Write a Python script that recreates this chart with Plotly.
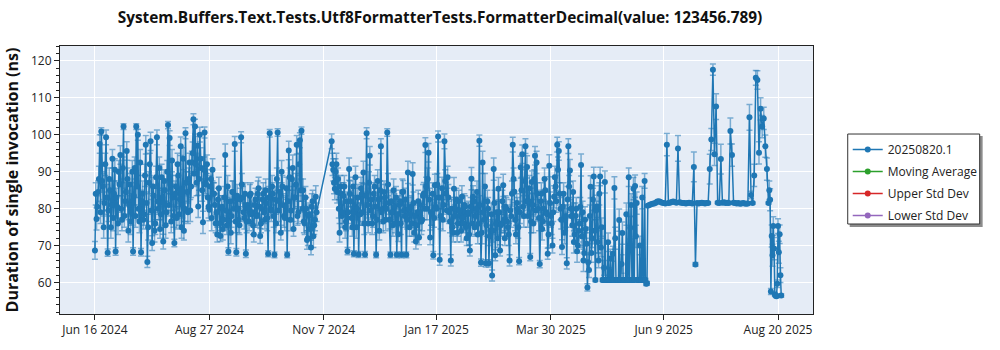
import pandas as pd
import plotly.graph_objects as go

title_text = "System.Buffers.Text.Tests.Utf8FormatterTests.FormatterDecimal(value: 123456.789)"
y_title = "Duration of single invocation (ns)"
series_names = ["20250820.1", "Moving Average", "Upper Std Dev", "Lower Std Dev"]
series_colors = ["#1f77b4", "#2ca02c", "#d62728", "#9467bd"]

# segment A: morning runs (daily from 2024-06-16) and evening runs (12h later)
start_a = "2024-06-16"
vals_a = [
    68.7, 77.2, 84.5, 97.5, 100.9, 86.0, 81.5, 99.3, 68.1, 88.0,
    75.0, 93.5, 84.0, 68.4, 80.5, 90.0, 94.5, 77.0, 102.2, 82.0,
    95.6, 74.0, 86.5, 79.0, 68.4, 91.0, 102.2, 100.0, 76.5, 68.2,
    84.0, 78.5, 97.3, 65.6, 87.0, 98.2, 70.7, 83.5, 76.0, 99.3,
    80.0, 74.5, 88.5, 71.1, 85.0, 79.0, 102.6, 99.1, 76.5, 83.0,
    70.7, 86.0, 92.0, 78.5, 96.9, 81.0, 74.0, 100.4, 84.5, 88.0,
    79.5, 92.5, 104.2, 102.2, 87.0, 80.6, 100.0, 91.0, 76.3, 100.6,
    86.5, 83.0, 79.7, 88.0, 90.5, 84.0, 76.0, 73.0, 85.5, 72.6,
    80.5, 77.0, 94.5, 75.5, 68.4, 82.0, 78.0, 84.5, 97.5, 68.2,
    80.0, 75.5, 99.3, 83.0, 77.5, 67.8, 81.0, 76.5, 84.0, 79.0,
    73.0, 82.5, 78.0, 85.5, 72.6, 80.0, 84.0, 77.0, 81.5, 67.8,
    100.4, 79.5, 84.0, 67.5, 76.0, 100.6, 82.0, 73.5, 86.0, 78.0,
    80.5, 67.5, 95.7, 77.0, 88.0, 74.5, 83.0, 97.3, 79.0, 98.5,
    101.1, 85.0, 76.0, 80.0, 72.0, 78.5, 69.5, 82.0, 75.5, 83.2,
]
err_a = [
    2.4, 3.0, 3.0, 2.5, 1.0, 3.5, 3.0, 2.0, 1.0, 3.0,
    3.0, 2.5, 3.5, 1.0, 3.0, 3.0, 2.5, 3.0, 0.8, 3.5,
    2.5, 3.0, 3.0, 3.5, 1.0, 3.0, 0.8, 1.5, 3.0, 1.0,
    3.5, 3.0, 2.5, 1.5, 3.0, 2.5, 2.0, 3.0, 3.0, 2.0,
    3.0, 2.5, 3.5, 2.0, 3.0, 3.0, 1.0, 2.0, 3.0, 3.5,
    1.0, 3.0, 3.0, 3.0, 2.5, 3.5, 2.5, 1.5, 3.0, 3.0,
    3.0, 3.0, 1.5, 2.0, 3.5, 3.0, 2.0, 3.0, 3.0, 1.5,
    3.0, 3.0, 3.0, 2.5, 3.0, 3.0, 2.5, 2.0, 3.0, 1.5,
    3.0, 3.0, 3.0, 2.5, 1.0, 3.0, 3.0, 3.0, 2.0, 1.0,
    3.0, 2.5, 1.5, 3.0, 3.0, 1.0, 3.0, 2.5, 3.0, 3.0,
    2.0, 3.0, 3.0, 3.0, 2.0, 3.0, 3.0, 2.5, 3.0, 0.8,
    1.0, 3.0, 3.0, 0.8, 2.5, 1.0, 3.0, 2.0, 3.0, 3.0,
    3.0, 0.8, 2.5, 3.0, 3.0, 2.0, 3.0, 2.5, 3.0, 2.0,
    1.0, 3.0, 3.0, 3.0, 2.0, 3.0, 2.0, 3.0, 2.5, 3.0,
]
vals_a_pm = [
    84.0, 80.5, 88.0, 79.0, 87.5, 75.0, 92.0, 83.0, 79.5, 85.0,
    81.0, 77.5, 90.5, 83.0, 76.0, 86.5, 80.0, 91.0, 78.0, 84.5,
    88.0, 81.0, 76.5, 90.0, 83.5, 78.0, 86.0, 80.0, 92.5, 82.0,
    77.0, 89.0, 81.5, 75.0, 92.0, 79.5, 86.0, 74.0, 88.5, 82.0,
    91.0, 78.5, 83.0, 87.5, 75.5, 90.0, 81.0, 86.5, 93.0, 78.0,
    84.0, 77.5, 89.0, 82.5, 75.0, 93.5, 80.0, 87.0, 79.0, 92.5,
    86.0, 95.0, 89.5, 92.0, 97.0, 88.0, 93.5, 85.0, 90.5, 87.0,
    92.0, 80.5, 86.0, 77.5, 84.0, 81.0, 79.0, 82.5, 76.0, 80.0,
    74.5, 83.0, 79.5, 86.0, 78.0, 73.5, 84.5, 80.0, 76.5, 83.5,
    77.0, 82.5, 86.5, 79.0, 84.0, 76.5, 80.0, 83.5, 78.5, 75.5,
    81.0, 78.5, 84.0, 80.5, 76.0, 82.5, 79.0, 85.0, 77.5, 83.0,
    80.0, 86.0, 78.0, 82.5, 88.0, 79.5, 84.5, 90.0, 81.0, 77.5,
    85.5, 82.0, 88.5, 79.5, 91.0, 83.0, 86.5, 78.0, 92.0, 85.0,
    80.0, 76.5, 83.0, 71.5, 78.0, 74.5, 80.5, 72.5, 77.0, 79.0,
]
err_a_pm = [
    3.0, 3.0, 3.5, 3.0, 2.5, 3.0, 3.0, 3.5, 3.0, 2.5,
    3.0, 3.5, 3.0, 2.5, 3.0, 3.0, 3.5, 3.0, 3.0, 2.5,
    3.0, 3.0, 3.5, 3.0, 2.5, 3.0, 3.0, 3.0, 3.5, 3.0,
    2.5, 3.0, 3.0, 3.5, 3.0, 3.0, 2.5, 3.0, 3.0, 3.5,
    3.0, 3.0, 2.5, 3.0, 3.5, 3.0, 3.0, 2.5, 3.0, 3.0,
    3.5, 3.0, 3.0, 2.5, 3.0, 3.0, 3.5, 3.0, 3.0, 2.5,
    3.0, 3.0, 3.5, 3.0, 2.5, 3.0, 3.0, 3.0, 3.5, 3.0,
    2.5, 3.0, 3.0, 3.5, 3.0, 3.0, 2.5, 3.0, 3.0, 3.5,
    3.0, 3.0, 2.5, 3.0, 3.5, 3.0, 3.0, 2.5, 3.0, 3.0,
    3.5, 3.0, 3.0, 2.5, 3.0, 3.0, 3.5, 3.0, 3.0, 2.5,
    3.0, 3.0, 3.5, 3.0, 2.5, 3.0, 3.0, 3.0, 3.5, 3.0,
    2.5, 3.0, 3.0, 3.5, 3.0, 3.0, 2.5, 3.0, 3.0, 3.5,
    3.0, 3.0, 2.5, 3.0, 3.5, 3.0, 3.0, 2.5, 3.0, 3.0,
    3.5, 3.0, 3.0, 2.5, 3.0, 3.0, 3.5, 3.0, 3.0, 2.5,
]

# segment B: morning runs (daily from 2024-11-12) and evening runs
start_b = "2024-11-12"
vals_b = [
    98.2, 90.5, 85.4, 92.0, 88.0, 73.5, 84.0, 79.0, 86.0, 76.5,
    68.5, 90.7, 82.0, 75.0, 67.8, 88.5, 80.0, 67.6, 78.5, 84.0,
    89.8, 67.6, 100.4, 76.0, 94.3, 82.5, 78.0, 86.0, 67.5, 87.5,
    74.0, 96.9, 80.0, 84.5, 77.0, 100.6, 81.5, 67.5, 79.0, 85.0,
    76.0, 67.5, 73.1, 82.0, 67.5, 84.6, 78.0, 67.5, 89.8, 75.0,
    80.5, 89.4, 73.5, 71.1, 79.0, 72.2, 81.0, 77.0, 84.1, 97.2,
    80.0, 95.1, 72.2, 78.5, 67.4, 86.3, 80.0, 99.5, 66.2, 83.0,
    77.0, 98.2, 84.1, 88.5, 79.0, 66.0, 75.0, 85.4, 80.0, 73.5,
    82.0, 78.0, 83.2, 76.0, 80.5, 72.0, 79.0, 68.7, 88.1, 83.2,
    75.0, 80.0, 73.0, 98.4, 65.4, 92.5, 77.0, 65.2, 82.0, 65.2,
    74.0, 61.9, 90.7, 67.4, 79.0, 85.4, 68.7, 76.0, 86.3, 72.0,
    80.0, 75.0, 66.0, 78.0, 97.3, 84.6, 73.0, 80.0, 65.8, 91.2,
    94.7, 78.0, 96.9, 91.3, 82.0, 66.9, 87.2, 76.0, 94.3, 92.5,
    80.0, 65.0, 84.0, 76.6, 88.0, 79.0, 67.8, 91.6, 78.0, 70.0,
    83.2, 86.0, 97.3, 95.6, 80.0, 69.6, 84.0, 77.0, 65.2, 96.9,
    90.3, 78.0, 84.5, 73.0, 80.0, 70.0, 76.0, 91.8, 79.0, 68.0,
    74.5, 58.7, 63.4, 85.9, 72.0, 88.7, 60.7, 80.6, 66.0, 88.7,
    75.0, 60.7, 87.2, 60.7, 70.9, 60.7, 60.7, 67.8, 85.6, 60.7,
    60.7, 76.9, 60.7, 73.4, 60.7, 60.7, 60.7, 88.5, 74.8, 60.7,
    85.4, 86.1, 81.5, 60.7, 70.0, 60.7, 60.7, 87.5, 59.7,
]
err_b = [
    2.0, 3.0, 3.0, 3.0, 3.0, 2.5, 3.0, 3.0, 3.0, 2.5,
    1.0, 3.0, 3.0, 2.5, 0.8, 3.0, 3.0, 0.8, 3.0, 3.0,
    3.0, 0.8, 1.5, 2.5, 2.5, 3.0, 3.0, 3.0, 0.8, 3.0,
    2.5, 2.0, 3.0, 3.0, 3.0, 1.0, 3.0, 0.8, 3.0, 3.0,
    2.5, 0.8, 2.0, 3.0, 0.8, 3.0, 3.0, 0.8, 3.0, 2.5,
    3.0, 3.0, 2.5, 2.0, 3.0, 2.0, 3.0, 3.0, 3.0, 2.0,
    3.0, 2.5, 2.0, 3.0, 1.0, 3.0, 3.0, 1.5, 1.5, 3.0,
    3.0, 2.0, 3.0, 3.0, 3.0, 1.5, 2.5, 3.0, 3.0, 2.5,
    3.0, 3.0, 3.0, 2.5, 3.0, 2.0, 3.0, 1.5, 3.0, 3.0,
    2.5, 3.0, 2.5, 1.5, 1.0, 3.0, 3.0, 1.0, 3.0, 1.0,
    2.5, 1.5, 3.0, 1.5, 3.0, 3.0, 1.5, 2.5, 3.0, 2.0,
    3.0, 2.5, 1.5, 3.0, 2.0, 3.0, 2.5, 3.0, 1.0, 3.0,
    2.5, 3.0, 2.0, 3.0, 3.0, 1.0, 3.0, 2.5, 2.5, 3.0,
    3.0, 1.0, 3.0, 2.5, 3.0, 3.0, 1.5, 3.0, 3.0, 2.0,
    3.0, 3.0, 2.0, 2.5, 3.0, 2.0, 3.0, 3.0, 1.5, 2.0,
    3.0, 3.0, 3.0, 2.5, 3.0, 2.0, 2.5, 3.0, 3.0, 2.0,
    2.5, 1.0, 2.0, 3.0, 2.5, 2.5, 0.5, 3.0, 2.0, 2.5,
    2.5, 0.5, 3.0, 0.5, 2.5, 0.5, 0.5, 2.0, 3.0, 0.5,
    0.5, 3.0, 0.5, 3.0, 0.5, 0.5, 0.5, 2.5, 3.0, 0.5,
    3.0, 3.0, 3.0, 0.5, 2.5, 0.5, 0.5, 2.0, 0.5,
]
vals_b_pm = [
    92.0, 87.0, 90.0, 84.5, 80.0, 86.0, 78.0, 83.5, 75.0, 82.0,
    79.0, 84.0, 77.5, 86.0, 80.5, 75.0, 83.0, 78.5, 85.5, 79.0,
    76.0, 83.5, 81.0, 87.0, 79.5, 76.0, 84.0, 80.5, 77.0, 82.5,
    85.0, 79.0, 76.5, 83.0, 80.0, 86.5, 77.0, 82.0, 75.5, 80.5,
    83.0, 78.5, 81.0, 76.0, 84.5, 79.5, 82.5, 77.0, 80.0, 78.5,
    76.0, 81.5, 78.0, 75.5, 82.0, 79.0, 76.5, 83.5, 80.0, 86.0,
    88.0, 82.5, 79.0, 84.0, 77.5, 80.5, 86.5, 83.0, 78.0, 85.5,
    81.0, 87.5, 79.5, 83.0, 76.5, 80.0, 73.5, 78.0, 82.5, 76.0,
    79.5, 74.0, 77.5, 81.0, 75.0, 78.5, 73.0, 80.5, 76.0, 82.0,
    78.0, 84.5, 76.0, 81.0, 73.5, 79.0, 86.0, 75.5, 80.0, 72.5,
    78.5, 74.0, 81.5, 76.0, 72.0, 79.0, 75.5, 82.0, 77.0, 80.5,
    76.5, 73.0, 79.5, 84.0, 88.0, 77.0, 81.5, 75.0, 79.0, 85.0,
    80.5, 87.5, 82.0, 78.0, 85.5, 76.5, 81.0, 88.0, 79.5, 84.0,
    77.5, 82.0, 74.5, 80.0, 85.0, 78.5, 73.0, 81.5, 76.0, 79.0,
    88.5, 82.0, 90.5, 84.0, 77.0, 80.5, 73.5, 78.0, 82.5, 86.0,
    80.0, 75.5, 71.0, 78.0, 68.5, 74.0, 80.5, 72.5, 66.0, 77.0,
    70.5, 65.5, 78.0, 68.0, 82.5, 74.0, 79.5, 71.0, 84.0, 69.5,
    60.7, 64.0, 60.7, 60.7, 60.7, 66.5, 60.7, 60.7, 72.0, 60.7,
    60.7, 60.7, 65.0, 60.7, 60.7, 78.5, 60.7, 60.7, 81.0, 60.7,
    60.7, 72.5, 60.7, 60.7, 60.7, 83.0, 60.7, 60.7, 59.8,
]
err_b_pm = [
    3.0, 3.0, 3.5, 3.0, 2.5, 3.0, 3.0, 3.5, 3.0, 2.5,
    3.0, 3.5, 3.0, 2.5, 3.0, 3.0, 3.5, 3.0, 3.0, 2.5,
    3.0, 3.0, 3.5, 3.0, 2.5, 3.0, 3.0, 3.0, 3.5, 3.0,
    2.5, 3.0, 3.0, 3.5, 3.0, 3.0, 2.5, 3.0, 3.0, 3.5,
    3.0, 3.0, 2.5, 3.0, 3.5, 3.0, 3.0, 2.5, 3.0, 3.0,
    3.5, 3.0, 3.0, 2.5, 3.0, 3.0, 3.5, 3.0, 3.0, 2.5,
    3.0, 3.0, 3.5, 3.0, 2.5, 3.0, 3.0, 3.0, 3.5, 3.0,
    2.5, 3.0, 3.0, 3.5, 3.0, 3.0, 2.5, 3.0, 3.0, 3.5,
    3.0, 3.0, 2.5, 3.0, 3.5, 3.0, 3.0, 2.5, 3.0, 3.0,
    3.5, 3.0, 3.0, 2.5, 3.0, 3.0, 3.5, 3.0, 3.0, 2.5,
    3.0, 3.0, 3.5, 3.0, 2.5, 3.0, 3.0, 3.0, 3.5, 3.0,
    2.5, 3.0, 3.0, 3.5, 3.0, 3.0, 2.5, 3.0, 3.0, 3.5,
    3.0, 3.0, 2.5, 3.0, 3.5, 3.0, 3.0, 2.5, 3.0, 3.0,
    3.5, 3.0, 3.0, 2.5, 3.0, 3.0, 3.5, 3.0, 3.0, 2.5,
    3.0, 3.0, 3.5, 3.0, 2.5, 3.0, 3.0, 3.0, 3.5, 3.0,
    2.5, 3.0, 3.0, 3.5, 3.0, 3.0, 2.5, 3.0, 3.0, 3.5,
    3.0, 2.5, 3.0, 2.5, 3.0, 3.0, 2.5, 3.0, 3.0, 2.5,
    0.5, 2.0, 0.5, 0.5, 0.5, 2.5, 0.5, 0.5, 3.0, 0.5,
    0.5, 0.5, 2.5, 0.5, 0.5, 3.0, 0.5, 0.5, 3.0, 0.5,
    0.5, 3.0, 0.5, 0.5, 0.5, 3.0, 0.5, 0.5, 0.5,
]

# segment C: daily runs from 2025-05-30
start_c = "2025-05-30"
vals_c = [
    80.8, 81.0, 81.2, 81.3, 81.4, 81.6, 81.9, 82.0, 81.8, 81.6,
    81.5, 81.4, 97.3, 81.5, 81.6, 81.8, 81.9, 81.8, 81.6, 96.3,
    81.7, 81.6, 81.5, 81.5, 81.4, 81.5, 81.6, 81.5, 81.4, 91.3,
    64.9, 81.5, 81.4, 81.5, 81.6, 81.5, 81.4, 81.5, 81.5, 90.7,
    98.7, 117.6, 94.7, 107.6, 81.6, 81.5, 93.4, 81.6, 81.7, 81.5,
    81.6, 81.5, 101.0, 94.5, 81.6, 81.5, 81.4, 81.5, 81.3, 81.4,
    81.5, 81.4, 81.3, 81.4, 104.7, 83.7, 81.5, 89.0, 115.4, 114.8,
    95.1, 107.0, 102.2, 104.4, 96.9, 90.7, 81.5,
]
err_c = [
    0.3, 0.3, 0.3, 0.3, 0.3, 0.3, 0.3, 0.3, 0.3, 0.3,
    0.3, 0.3, 3.0, 0.3, 0.3, 0.3, 0.3, 0.3, 0.3, 3.5,
    0.3, 0.3, 0.3, 0.3, 0.3, 0.3, 0.3, 0.3, 0.3, 4.0,
    0.5, 0.3, 0.3, 0.3, 0.3, 0.3, 0.3, 0.3, 0.3, 4.0,
    3.0, 1.5, 3.0, 3.5, 0.3, 0.3, 4.0, 0.3, 0.3, 0.3,
    0.3, 0.3, 3.5, 3.0, 0.3, 0.3, 0.3, 0.3, 0.3, 0.3,
    0.3, 0.3, 0.3, 0.3, 3.5, 1.0, 0.3, 3.0, 2.0, 2.5,
    3.0, 3.0, 3.0, 3.0, 3.0, 3.0, 0.3,
]

# segment D: twice-daily runs from 2025-08-14 12:00
start_d = "2025-08-14 12:00"
vals_d = [85.0, 82.4, 57.6, 72.6, 67.4, 75.3, 69.2, 56.8,
          56.5, 56.3, 59.7, 75.3, 68.2, 73.1, 62.0, 56.5]
err_d = [2.5, 3.0, 0.8, 3.0, 3.0, 2.5, 3.0, 0.5,
         0.5, 0.5, 1.0, 2.0, 3.0, 2.5, 2.0, 0.5]

tick_dates = ["2024-06-16", "2024-08-27", "2024-11-07", "2025-01-17",
              "2025-03-30", "2025-06-09", "2025-08-20"]
tick_labels = ["Jun 16 2024", "Aug 27 2024", "Nov 7 2024", "Jan 17 2025",
               "Mar 30 2025", "Jun 9 2025", "Aug 20 2025"]
x_range = ["2024-05-25", "2025-09-11"]
y_range = [51.5, 124.0]
y_ticks = [60, 70, 80, 90, 100, 110, 120]

# assemble runs in time order
half = pd.Timedelta(hours=12)
parts = []
for s, v, e, f in [(start_a, vals_a, err_a, "D"), (start_b, vals_b, err_b, "D"),
                   (start_c, vals_c, err_c, "D"), (start_d, vals_d, err_d, "12h")]:
    parts.append(pd.DataFrame({"x": pd.date_range(s, periods=len(v), freq=f), "y": v, "e": e}))
for s, v, e in [(start_a, vals_a_pm, err_a_pm), (start_b, vals_b_pm, err_b_pm)]:
    parts.append(pd.DataFrame({"x": pd.date_range(pd.Timestamp(s) + half, periods=len(v), freq="D"),
                               "y": v, "e": e}))
df = pd.concat(parts).sort_values("x", kind="stable")

FONT = "Open Sans"
fig = go.Figure()
fig.add_trace(go.Scatter(
    x=df["x"], y=df["y"], mode="lines+markers", name=series_names[0],
    legendgroup="g0",
    line=dict(color=series_colors[0], width=1.5),
    marker=dict(color=series_colors[0], size=6),
    error_y=dict(type="data", array=list(df["e"]), visible=True,
                 color="rgba(31,119,180,0.55)", thickness=1.5, width=3),
))
for i in range(1, 4):
    fig.add_trace(go.Scatter(
        x=[df["x"].iloc[0]], y=[None], mode="lines+markers", name=series_names[i],
        legendgroup="g%d" % i,
        line=dict(color=series_colors[i], width=1.5),
        marker=dict(color=series_colors[i], size=6),
    ))

# legend frame drawn as shapes (shadow + white box with border), legend itself transparent
PW, PH = 759.0, 274.0
def px_x(v):
    return (v - 54) / PW
def px_y(v):
    return (320 - v) / PH
fig.add_shape(type="rect", xref="paper", yref="paper",
              x0=px_x(850), x1=px_x(984), y0=px_y(231), y1=px_y(138),
              fillcolor="#8c8c8c", line=dict(width=0), layer="above")
fig.add_shape(type="rect", xref="paper", yref="paper",
              x0=px_x(848), x1=px_x(981), y0=px_y(228), y1=px_y(136),
              fillcolor="white", line=dict(color="#333", width=1), layer="above")

fig.update_layout(
    width=1000, height=350,
    margin=dict(l=54, r=187, t=46, b=30),
    paper_bgcolor="white", plot_bgcolor="#E5ECF6",
    font=dict(family=FONT, size=12, color="#222"),
    title=dict(text="<b>" + title_text + "</b>", x=0.44, xanchor="center",
               y=1 - 18 / 350, yanchor="middle",
               font=dict(family=FONT, size=15.4, color="#111")),
    showlegend=True,
    legend=dict(x=px_x(848), y=px_y(137), xanchor="left", yanchor="top",
                bgcolor="rgba(0,0,0,0)", borderwidth=0,
                tracegroupgap=3, font=dict(family=FONT, size=12, color="#222")),
)
fig.update_xaxes(
    range=x_range, tickvals=tick_dates, ticktext=tick_labels,
    showgrid=True, gridcolor="white", gridwidth=1,
    showline=True, linecolor="#222", linewidth=1, mirror=True,
    ticks="outside", ticklen=5, tickcolor="#222", zeroline=False,
    tickfont=dict(size=12),
)
fig.update_yaxes(
    range=y_range, tickvals=y_ticks,
    showgrid=True, gridcolor="white", gridwidth=1,
    showline=True, linecolor="#222", linewidth=1, mirror=True,
    ticks="outside", ticklen=5, tickcolor="#222", zeroline=False,
    minor=dict(ticks="outside", ticklen=3, dtick=2, tickcolor="#222", showgrid=False),
    title=dict(text="<b>" + y_title + "</b>", font=dict(family=FONT, size=16, color="#111"),
               standoff=8),
    tickfont=dict(size=12),
)
fig.write_html("out.html")
